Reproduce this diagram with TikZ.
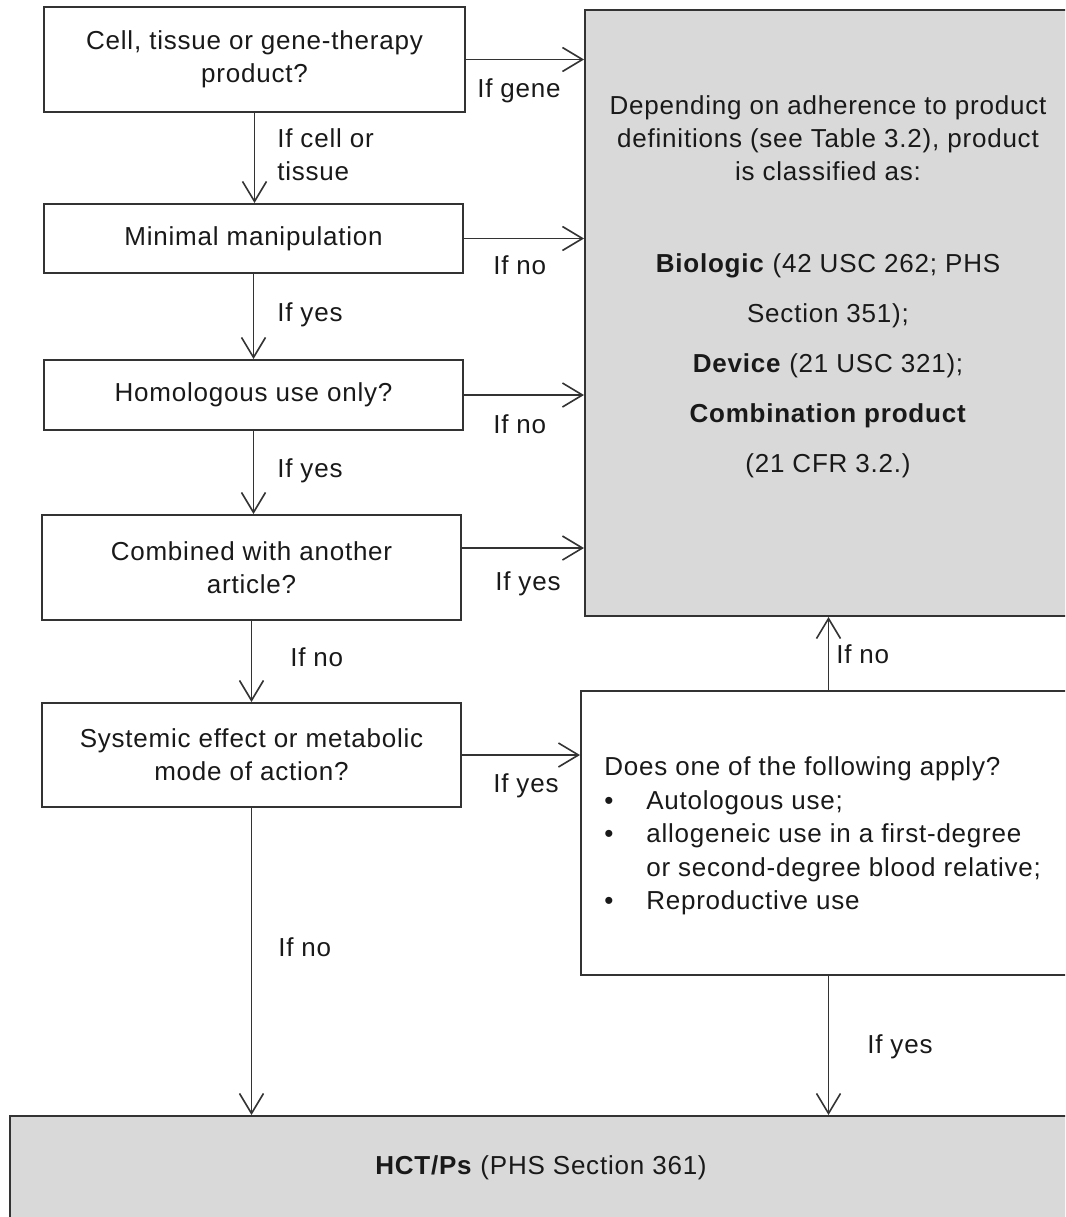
\documentclass[tikz,border=0pt]{standalone}
\usepackage{fontspec}
\setmainfont{Liberation Sans}[LetterSpace=3]
\usetikzlibrary{arrows.meta}
\begin{document}
\begin{tikzpicture}[x=0.75pt,y=-0.75pt,
  every node/.style={font=\fontsize{19.5}{24.75}\selectfont, text=black!90},
  box/.style={draw=black!80, line width=1.5pt, fill=white, align=center, inner sep=0pt},
  shaded/.style={box, fill=gray!30},
  arr/.style={draw=black!80, line width=1.2pt,
    -{Straight Barb[length=15pt,width=18pt,line width=1.2pt]}},
  lbl/.style={anchor=west, inner sep=0pt, text height=13pt, text depth=4pt},
]
\useasboundingbox (0,0) rectangle (1065,1217);
\clip (0,0) rectangle (1065,1217);

% decision boxes on the left
\node[box, minimum width=315.75pt, minimum height=78.75pt] (b1) at (254.5,59.5)
  {Cell, tissue or gene-therapy\\product?};
\node[box, minimum width=314.25pt, minimum height=51.75pt] (b2) at (253.5,238.5)
  {Minimal manipulation};
\node[box, minimum width=314.25pt, minimum height=52.5pt] (b3) at (253.5,395)
  {Homologous use only?};
\node[box, minimum width=314.25pt, minimum height=78.75pt] (b4) at (251.5,567.5)
  {Combined with another\\article?};
\node[box, minimum width=314.25pt, minimum height=78pt] (b5) at (251.5,755)
  {Systemic effect or metabolic\\mode of action?};

% outcome boxes
\node[shaded, minimum width=365.25pt, minimum height=454.5pt] (gray) at (828.5,313) {};
\node[box, minimum width=368.25pt, minimum height=213pt] (does) at (826.5,833) {};
\node[shaded, minimum width=796.5pt, minimum height=78pt] (hct) at (541,1168)
  {\textbf{HCT/Ps} (PHS Section 361)};

% text inside the classification box
\node[align=center, inner sep=0pt] (clsA) at (828,138)
  {Depending on adherence to product\\definitions (see Table 3.2), product\\is classified as:};
\node[align=center, inner sep=0pt, font=\fontsize{19.5}{37.5}\selectfont] (clsB) at (828,366)
  {\textbf{Biologic} (42 USC 262; PHS\\Section 351);\\\textbf{Device} (21 USC 321);\\
   \textbf{Combination product}\\(21 CFR 3.2.)};

% text inside the exemption box
\node[align=left, anchor=west, inner sep=0pt, font=\fontsize{19.5}{25.1}\selectfont] (exm) at (604,836)
  {Does one of the following apply?\\
   \makebox[31.5pt][l]{\textbullet}Autologous use;\\
   \makebox[31.5pt][l]{\textbullet}allogeneic use in a first-degree\\
   \hspace*{31.5pt}or second-degree blood relative;\\
   \makebox[31.5pt][l]{\textbullet}Reproductive use};

% horizontal connectors
\draw[arr] (b1.east) -- (b1.east -| gray.west);
\draw[arr] (b2.east) -- (b2.east -| gray.west);
\draw[arr] (b3.east) -- (b3.east -| gray.west);
\draw[arr] ([yshift=14.6pt]b4.east) -- ([yshift=14.6pt]b4.east -| gray.west);
\draw[arr] (b5.east) -- (b5.east -| does.west);

% vertical connectors
\draw[arr] (b1.south) -- (b1.south |- b2.north);
\draw[arr] (b2.south) -- (b2.south |- b3.north);
\draw[arr] (b3.south) -- (b3.south |- b4.north);
\draw[arr] (b4.south) -- (b4.south |- b5.north);
\draw[arr] (b5.south) -- (b5.south |- hct.north);
\draw[arr] ([xshift=1.5pt]does.north) -- ([xshift=1.5pt]does.north |- gray.south);
\draw[arr] ([xshift=1.5pt]does.south) -- ([xshift=1.5pt]does.south |- hct.north);

% connector labels
\node[lbl] (lgene) at (477,91) {If gene};
\node[lbl] (lno2) at (493,268) {If no};
\node[lbl] (lno3) at (493,427) {If no};
\node[lbl] (lyes4) at (495,584) {If yes};
\node[lbl] (lyes5) at (493,786) {If yes};
\node[anchor=west, inner sep=0pt, align=left] (lcell) at (277,155) {If cell or\\tissue};
\node[lbl] (lyes2) at (277,315) {If yes};
\node[lbl] (lyes3) at (277,471) {If yes};
\node[lbl] (lno4) at (290,660) {If no};
\node[lbl] (lno5) at (278,950) {If no};
\node[lbl] (lnoup) at (836,657) {If no};
\node[lbl] (lyesdn) at (867,1047) {If yes};
\end{tikzpicture}
\end{document}
